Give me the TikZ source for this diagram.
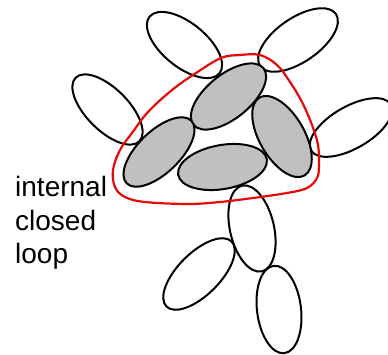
\documentclass[tikz,border=0pt]{standalone}
\usepackage{fontspec}
\setmainfont{Liberation Sans}
\definecolor{loopred}{RGB}{228,10,10}
\definecolor{cellgray}{RGB}{192,192,192}
\tikzset{
  whitecell/.style={draw=black, line width=2pt},
  graycell/.style={draw=black, line width=2pt, fill=cellgray},
  looppath/.style={draw=loopred, line width=2.2pt},
  label/.style={anchor=base west, inner sep=0pt, font=\fontsize{28}{33.5}\selectfont}
}
\newcommand{\cell}[6]{\path[#1, shift={(#2pt,#3pt)}, rotate=#6] (0,0) ellipse (#4pt and #5pt);}
\begin{document}
\begin{tikzpicture}[x=1pt,y=1pt]
\useasboundingbox (0,0) rectangle (388,354);
% white ellipses
\cell{whitecell}{184.5}{309}{45}{22}{-39}
\cell{whitecell}{298}{314}{46}{22}{34.5}
\cell{whitecell}{107.5}{244.5}{45}{21}{-45}
\cell{whitecell}{351}{226.5}{46}{21}{30}
\cell{whitecell}{252}{125.5}{44}{22}{-77}
\cell{whitecell}{199}{80}{46}{21}{45}
\cell{whitecell}{279}{44.5}{44}{22}{-83}
% gray ellipses
\cell{graycell}{228.5}{257.5}{45}{22}{39}
\cell{graycell}{159}{202}{45}{21}{44}
\cell{graycell}{282}{217.5}{45}{22.5}{-60}
\cell{graycell}{222.5}{187}{45}{22}{10}
% red loop
\draw[looppath] plot[smooth cycle, tension=0.6] coordinates {
(240,299) (260,299) (277,289) (290,272) (302,252) (312,229) (318,209) (319,189)
(317,176) (307,166) (287,161) (253,156) (220,152) (188,150) (145,152) (125,157)
(115,167) (113,184) (120,204) (132,221) (148,242) (172,264) (196,281) (221,296)};
% text
\node[label] (t1) at (15,158) {internal};
\node[label] (t2) at (15,124) {closed};
\node[label] (t3) at (15,91) {loop};
\end{tikzpicture}
\end{document}
